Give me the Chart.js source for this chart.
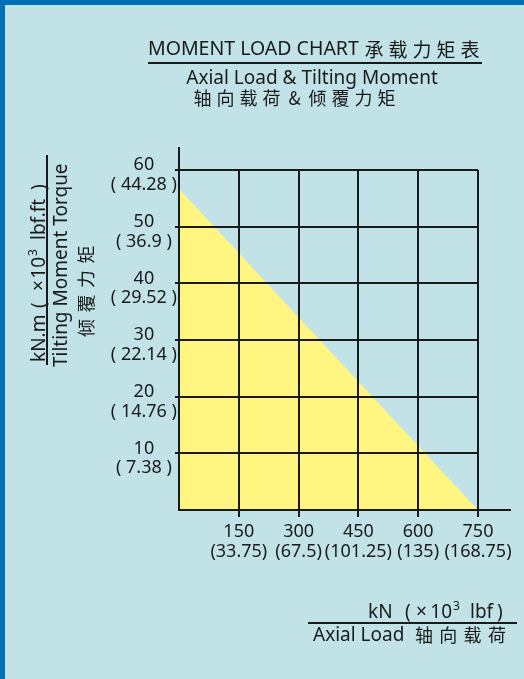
<!DOCTYPE html>
<html><head><meta charset="utf-8">
<script src="https://cdn.jsdelivr.net/npm/chart.js@4/dist/chart.umd.min.js"></script>
<style>html,body{margin:0;padding:0;background:#c1e2e6;overflow:hidden}canvas{display:block}</style>
</head><body>
<canvas id="c" width="524" height="679"></canvas>
<script>
// ---- data ----
const xTickValues = [150, 300, 450, 600, 750];            // kN
const xTickImperial = ['33.75', '67.5', '101.25', '135', '168.75']; // ×10³ lbf
const yTickValues = [10, 20, 30, 40, 50, 60];             // kN.m
const yTickImperial = ['7.38', '14.76', '22.14', '29.52', '36.9', '44.28']; // ×10³ lbf.ft
const boundaryLoad = [0, 750];       // axial load, kN
const boundaryMoment = [56.7, 0];    // tilting moment, kN.m

const LATIN = '"Noto Sans", sans-serif';
const CJK = '"Noto Sans CJK SC", sans-serif';
const INK = '#1a1a1a';
const BG = '#c1e2e6';
const EDGE = '#0070b8';
const FILL = '#fff580';

function drawText(ctx, s, x, y, size, fam, align, base) {
  ctx.font = size + 'px ' + fam;
  ctx.textAlign = align || 'left';
  ctx.textBaseline = base || 'alphabetic';
  ctx.fillText(s, x, y);
}
function drawSpaced(ctx, s, x0, pitch, y, size) {
  [...s].forEach((ch, i) => drawText(ctx, ch, x0 + i * pitch, y, size, CJK, 'center', 'middle'));
}
function hline(ctx, x1, x2, y, w) {
  ctx.beginPath(); ctx.lineWidth = w; ctx.moveTo(x1, y); ctx.lineTo(x2, y); ctx.stroke();
}

const decor = {
  id: 'decor',
  beforeDraw(chart) {
    const ctx = chart.ctx;
    ctx.save();
    ctx.fillStyle = BG; ctx.fillRect(0, 0, chart.width, chart.height);
    ctx.fillStyle = EDGE; ctx.fillRect(0, 0, chart.width, 5); ctx.fillRect(0, 0, 5, chart.height);
    ctx.restore();
  },
  afterDraw(chart) {
    const ctx = chart.ctx;
    const xs = chart.scales.x, ys = chart.scales.y;
    ctx.save();
    ctx.strokeStyle = INK; ctx.fillStyle = INK;
    // axis line extensions
    const x0 = xs.getPixelForValue(0), x750 = xs.getPixelForValue(750);
    const y0 = ys.getPixelForValue(0), y60 = ys.getPixelForValue(60);
    ctx.lineWidth = 2;
    ctx.beginPath(); ctx.moveTo(x750, y0); ctx.lineTo(x750 + 33, y0); ctx.stroke();
    ctx.beginPath(); ctx.moveTo(x0, y60); ctx.lineTo(x0, y60 - 23); ctx.stroke();

    // header
    drawText(ctx, 'MOMENT LOAD CHART', 148, 55, 19.5, LATIN);
    drawSpaced(ctx, '承载力矩表', 374, 24, 49.5, 19);
    hline(ctx, 148, 482, 63, 2);
    drawText(ctx, 'Axial Load & Tilting Moment', 312, 84, 19, LATIN, 'center');
    drawSpaced(ctx, '轴向载荷&倾覆力矩', 202.5, 23, 98, 18);

    // y-axis title (rotated)
    ctx.save();
    ctx.translate(45, 362); ctx.rotate(-Math.PI / 2);
    drawText(ctx, 'kN.m', 0, 0, 19, LATIN);
    drawText(ctx, '(', 54, 0, 19, LATIN);
    drawText(ctx, '×', 71, 0, 19, LATIN);
    drawText(ctx, '10', 105, 0, 19, LATIN, 'right');
    drawText(ctx, '3', 106, -8, 12, LATIN);
    drawText(ctx, 'lbf.ft', 122, 0, 19, LATIN);
    drawText(ctx, ')', 172, 0, 19, LATIN);
    ctx.restore();
    ctx.beginPath(); ctx.lineWidth = 2; ctx.moveTo(47, 155); ctx.lineTo(47, 365); ctx.stroke();
    ctx.save();
    ctx.translate(66.5, 367); ctx.rotate(-Math.PI / 2);
    drawText(ctx, 'Tilting Moment Torque', 0, 0, 19, LATIN);
    ctx.restore();
    ctx.save();
    ctx.translate(86, 328); ctx.rotate(-Math.PI / 2);
    drawSpaced(ctx, '倾覆力矩', 0, 24.5, 0, 18);
    ctx.restore();

    // x-axis title
    drawText(ctx, 'kN', 368, 618, 19, LATIN);
    drawText(ctx, '(', 405, 618, 19, LATIN);
    drawText(ctx, '×', 416, 618, 19, LATIN);
    drawText(ctx, '10', 452, 618, 19, LATIN, 'right');
    drawText(ctx, '3', 453, 610, 12, LATIN);
    drawText(ctx, 'lbf', 470, 618, 19, LATIN);
    drawText(ctx, ')', 497, 618, 19, LATIN);
    hline(ctx, 308, 517, 623, 2);
    drawText(ctx, 'Axial Load', 313, 641, 19, LATIN);
    drawSpaced(ctx, '轴向载荷', 424, 24.3, 635.5, 18);
    ctx.restore();
  }
};

new Chart(document.getElementById('c'), {
  type: 'scatter',
  data: {
    datasets: [{
      data: boundaryLoad.map((v, i) => ({ x: v, y: boundaryMoment[i] })),
      showLine: true,
      borderWidth: 0,
      borderColor: 'rgba(0,0,0,0)',
      pointRadius: 0,
      backgroundColor: FILL,
      fill: 'origin'
    }]
  },
  options: {
    responsive: false,
    animation: false,
    devicePixelRatio: 1,
    layout: { padding: { left: 0, top: 170, right: 46, bottom: 0 } },
    plugins: { legend: { display: false }, tooltip: { enabled: false }, title: { display: false } },
    scales: {
      x: {
        type: 'linear', min: 0, max: 750, z: 1,
        afterBuildTicks: s => { s.ticks = xTickValues.map(v => ({ value: v })); },
        afterFit: s => { s.height = 169; },
        grid: { color: INK, lineWidth: 2, tickLength: 7, tickColor: INK, tickWidth: 2, z: 1 },
        border: { color: INK, width: 2, z: 2 },
        ticks: {
          autoSkip: false, maxRotation: 0, padding: 5, color: INK,
          font: { family: LATIN, size: 18, lineHeight: 1.12 },
          callback: v => { const i = xTickValues.indexOf(v); return [String(v), '(' + xTickImperial[i] + ')']; }
        }
      },
      y: {
        type: 'linear', min: 0, max: 60, z: 1,
        afterBuildTicks: s => { s.ticks = yTickValues.map(v => ({ value: v })); },
        afterFit: s => { s.width = 179; },
        grid: { color: INK, lineWidth: 2, tickLength: 4, tickColor: INK, tickWidth: 2, z: 1 },
        border: { color: INK, width: 2, z: 2 },
        ticks: {
          autoSkip: false, crossAlign: 'center', padding: -2, labelOffset: 5, color: INK,
          font: { family: LATIN, size: 18, lineHeight: 1.1 },
          callback: v => { const i = yTickValues.indexOf(v); return [String(v), '( ' + yTickImperial[i] + ' )']; }
        }
      }
    }
  },
  plugins: [decor]
});
</script>
</body></html>
